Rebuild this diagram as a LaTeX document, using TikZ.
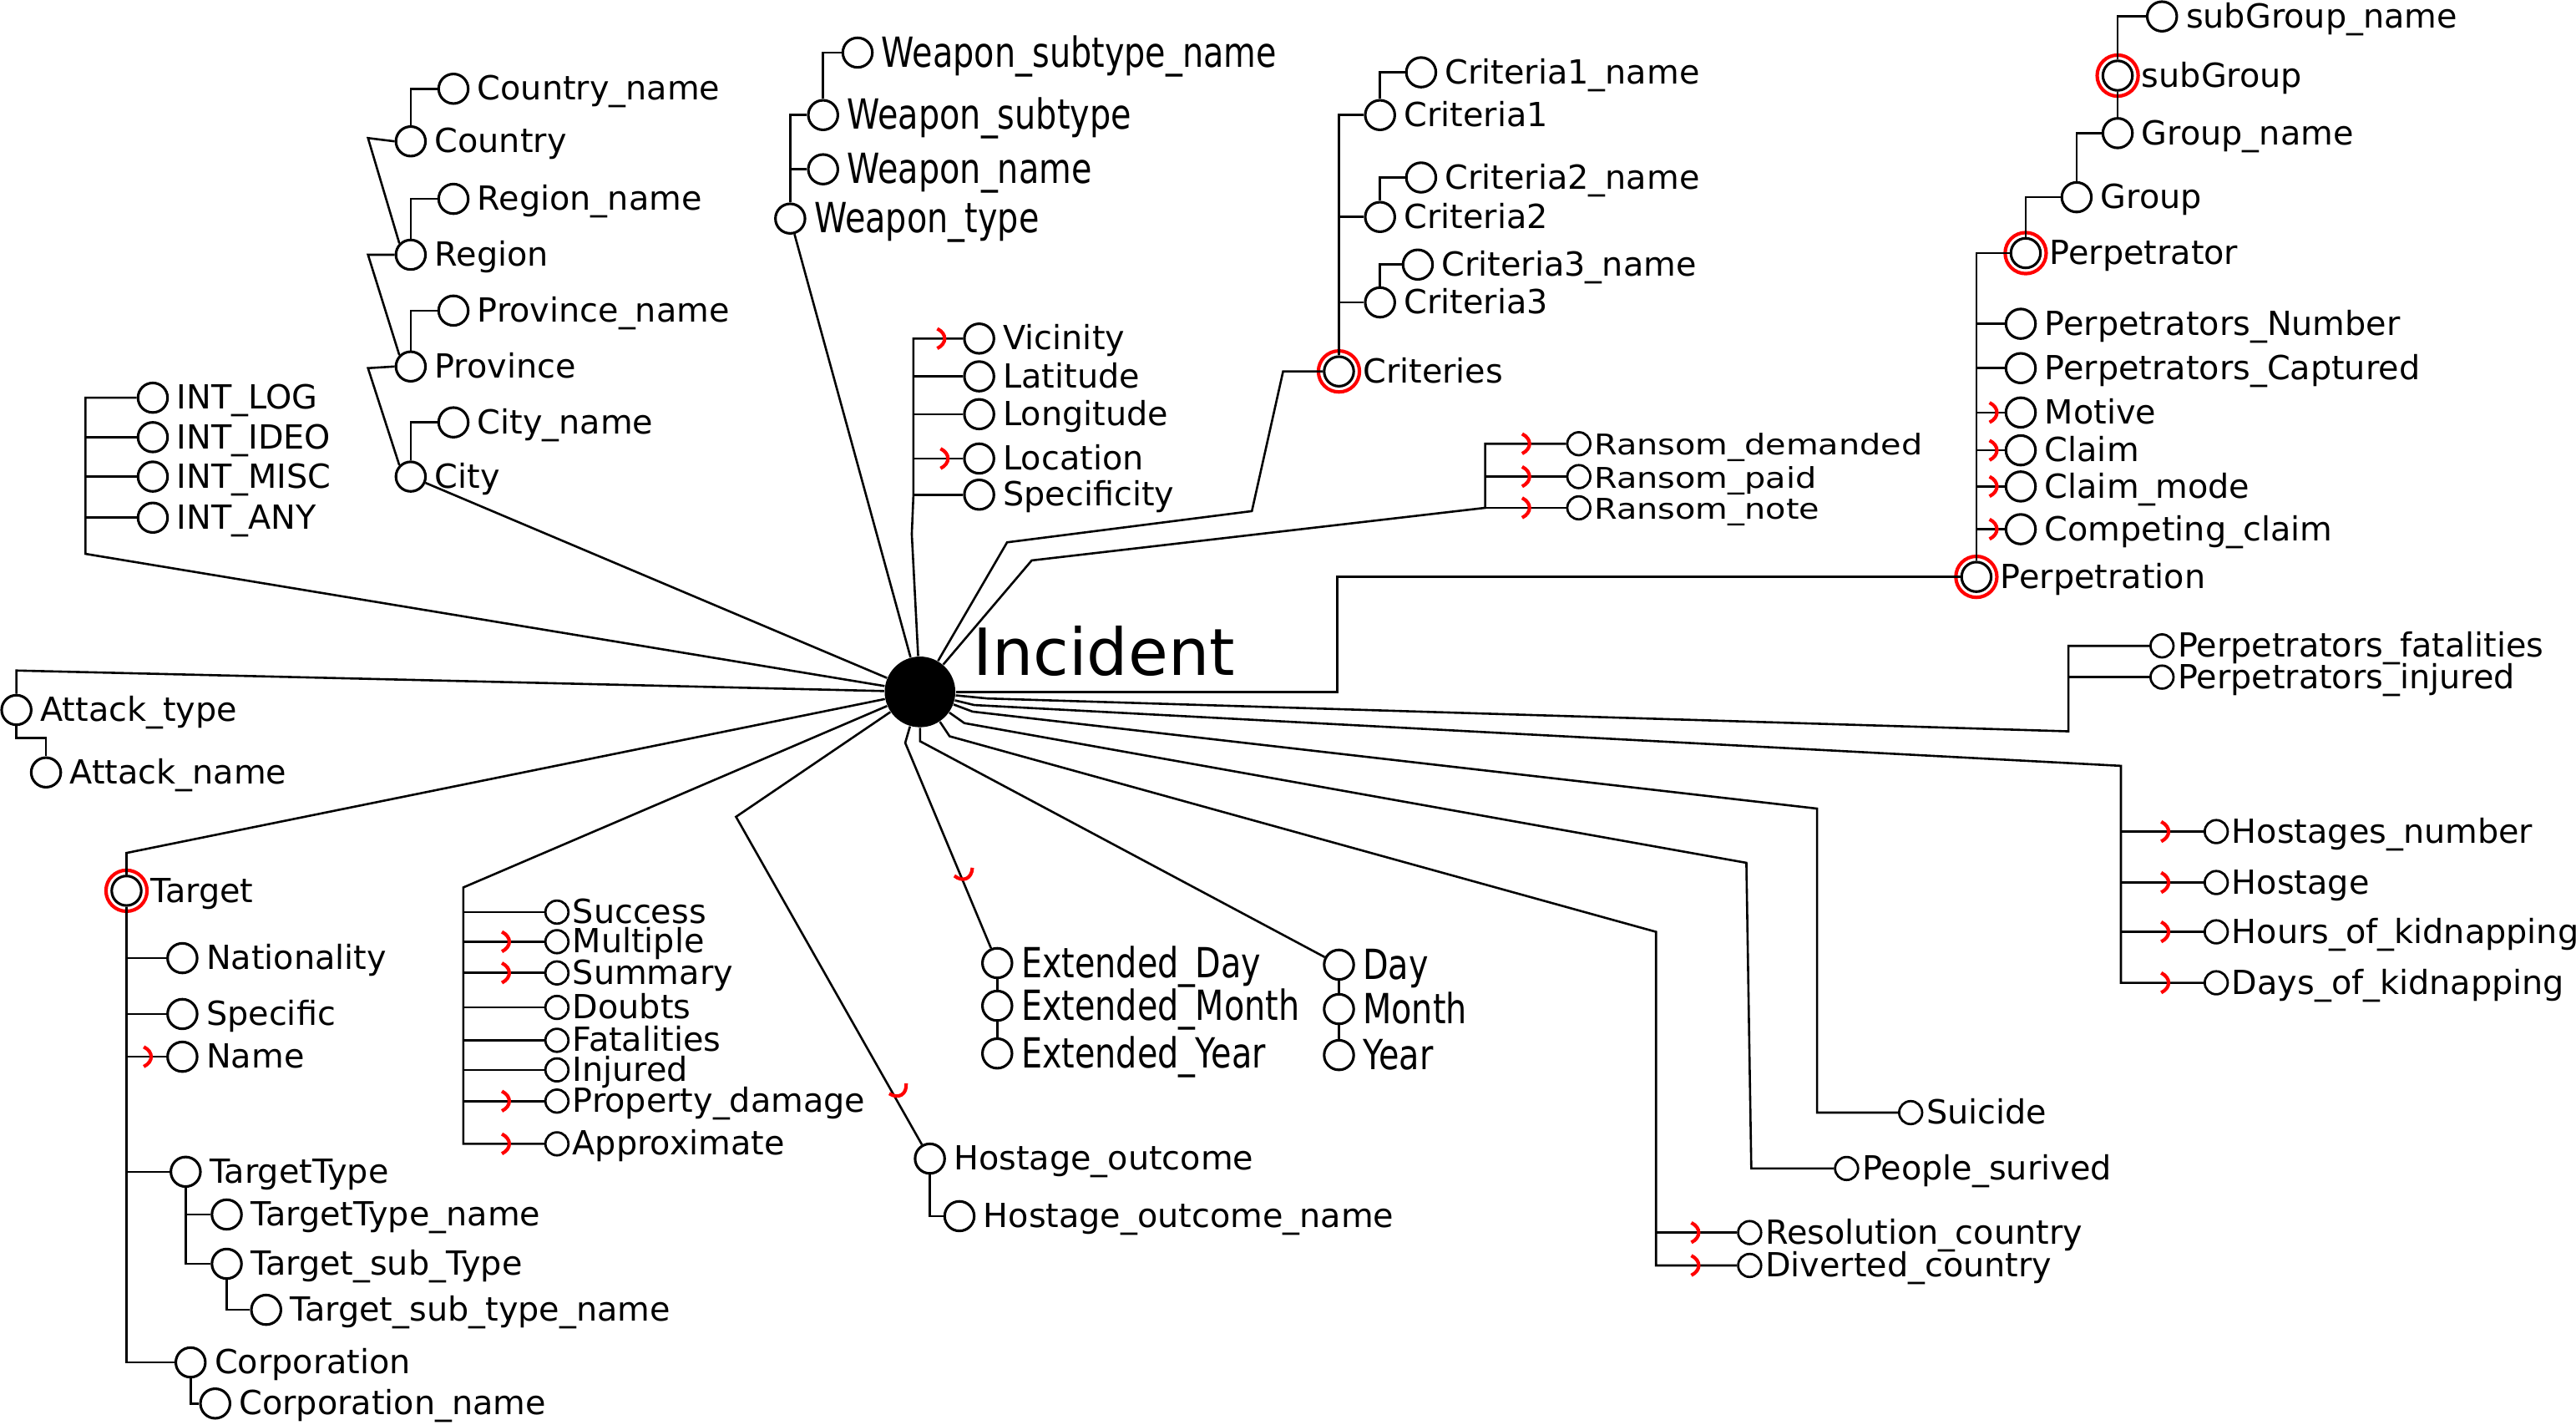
\documentclass[tikz,border=0pt]{standalone}
\usepackage{fontspec}
\setmainfont{DejaVu Sans}
\usetikzlibrary{calc}
\tikzset{
  attr/.style={circle, draw, line width=0.9pt, minimum size=0.36cm,
    inner sep=0pt},
  sattr/.style={circle, draw, line width=0.8pt, minimum size=0.28cm,
    inner sep=0pt},
  incident/.style={circle, fill=black, minimum size=0.86cm,
    inner sep=0pt},
  keyring/.style={draw=red, line width=1.2pt},
  link/.style={line width=0.75pt},
  every label/.style={font=\fontsize{11.5}{13}\selectfont, inner sep=0pt,
    text height=8.7pt, text depth=2.8pt, yshift=-1pt, xshift=0.09cm},
  sgap/.style={xshift=-0.06cm},
  tight/.style={sgap, text height=7.4pt, text depth=1.6pt},
  tallpos/.style={yshift=-1pt},
  bigtxt/.style={font=\fontsize{22.5}{26}\selectfont, text height=16.5pt,
    text depth=0pt, yshift=15pt, xshift=0.11cm},
  crowmark/.pic={\draw[red, line width=1.2pt]
    (-2.5,-6) .. controls (3.5,-3) and (3.5,3) .. (-2.5,6);},
}
\newcommand{\tallt}[1]{\scalebox{1}[1.25]{#1}}
\newcommand{\flatt}[1]{\scalebox{1}[0.86]{#1}}

\begin{document}
\begin{tikzpicture}[x=0.02cm, y=-0.02cm]
  \useasboundingbox (0,0) rectangle (1568,867);

  \node[incident, label={[bigtxt]right:Incident}] (inc) at (560,421) {};

  % INT
  \node[attr, label=right:INT\_LOG]  (ilog)  at (93,242) {};
  \node[attr, label=right:INT\_IDEO] (iideo) at (93,266) {};
  \node[attr, label=right:INT\_MISC] (imisc) at (93,290) {};
  \node[attr, label=right:INT\_ANY]  (iany)  at (93,315) {};
  \coordinate (ibar) at (52,337);
  \draw[link] (inc) -- (ibar) |- (ilog);
  \foreach \n in {iideo,imisc,iany} \draw[link] (ibar |- \n) -- (\n);

  % places
  \node[attr, label=right:Country\_name]  (ctryn) at (276,54) {};
  \node[attr, label=right:Country]        (ctry)  at (250,86) {};
  \node[attr, label=right:Region\_name]   (regn)  at (276,121) {};
  \node[attr, label=right:Region]         (reg)   at (250,155) {};
  \node[attr, label=right:Province\_name] (provn) at (276,189) {};
  \node[attr, label=right:Province]       (prov)  at (250,223) {};
  \node[attr, label=right:City\_name]     (cityn) at (276,257) {};
  \node[attr, label=right:City]           (city)  at (250,290) {};
  \foreach \a/\b in {ctry/ctryn, reg/regn, prov/provn, city/cityn}
    \draw[link] (\a.north) |- (\b);
  \draw[link] (ctry.west) -- (224,84) -- (reg.north west);
  \draw[link] (reg.west) -- (224,155) -- (prov.north west);
  \draw[link] (prov.west) -- (224,224) -- (city.north west);
  \draw[link] (city) -- (inc);

  % weapon
  \node[attr, label={[tallpos]right:\tallt{Weapon\_type}}]          (wtype) at (481,133) {};
  \node[attr, label={[tallpos]right:\tallt{Weapon\_name}}]          (wname) at (501,103) {};
  \node[attr, label={[tallpos]right:\tallt{Weapon\_subtype}}]       (wsub)  at (501,70) {};
  \node[attr, label={[tallpos]right:\tallt{Weapon\_subtype\_name}}] (wsubn) at (522,32) {};
  \draw[link] (wtype.north) |- (wsub);
  \draw[link] (wtype.north |- wname) -- (wname);
  \draw[link] (wsub.north) |- (wsubn);
  \draw[link] (wtype) -- (inc);

  % location
  \node[attr, label=right:Vicinity]    (vic)  at (596,206) {};
  \node[attr, label=right:Latitude]    (lat)  at (596,229) {};
  \node[attr, label=right:Longitude]   (lon)  at (596,252) {};
  \node[attr, label=right:Location]    (loc)  at (596,279) {};
  \node[attr, label=right:Specificity] (spec) at (596,301) {};
  \coordinate (lbar) at (556,301);
  \draw[link] (inc) -- (555,325) -- (lbar) |- (vic);
  \foreach \n in {lat,lon,loc,spec} \draw[link] (lbar |- \n) -- (\n);
  \pic at ([xshift=-0.46cm]vic.center) {crowmark};
  \pic at ([xshift=-0.42cm]loc.center) {crowmark};

  % criteries
  \node[attr, label=right:Criteria1\_name] (cr1n) at (865,44) {};
  \node[attr, label=right:Criteria1]       (cr1)  at (840,70) {};
  \node[attr, label=right:Criteria2\_name] (cr2n) at (865,108) {};
  \node[attr, label=right:Criteria2]       (cr2)  at (840,132) {};
  \node[attr, label=right:Criteria3\_name] (cr3n) at (863,161) {};
  \node[attr, label=right:Criteria3]       (cr3)  at (840,184) {};
  \node[attr, label=right:Criteries]       (crit) at (815,226) {};
  \draw[keyring] (crit) circle (0.25cm);
  \draw[link] (crit.north) |- (cr1);
  \foreach \n in {cr2,cr3} \draw[link] (crit.north |- \n) -- (\n);
  \foreach \a/\b in {cr1/cr1n, cr2/cr2n, cr3/cr3n} \draw[link] (\a.north) |- (\b);
  \draw[link] (inc) -- (613,330) -- (762,311) -- (781,226) -- (crit);

  % ransom
  \node[sattr, label={[tight]right:\flatt{Ransom\_demanded}}] (rdem)  at (961,270) {};
  \node[sattr, label={[tight]right:\flatt{Ransom\_paid}}]     (rpaid) at (961,290) {};
  \node[sattr, label={[tight]right:\flatt{Ransom\_note}}]     (rnote) at (961,309) {};
  \coordinate (rbar) at (904,309);
  \draw[link] (inc) -- (628,341) -- (rbar) |- (rdem);
  \foreach \n in {rpaid,rnote} \draw[link] (rbar |- \n) -- (\n);
  \foreach \n in {rdem,rpaid,rnote} \pic at ([xshift=-0.64cm]\n.center) {crowmark};

  % perpetration
  \node[attr, label=right:Perpetration]            (perpn) at (1203,351) {};
  \node[attr, label=right:Perpetrators\_Number]    (pnum)  at (1230,197) {};
  \node[attr, label=right:Perpetrators\_Captured]  (pcap)  at (1230,224) {};
  \node[attr, label=right:Motive]                  (motv)  at (1230,251) {};
  \node[attr, label=right:Claim]                   (clm)   at (1230,274) {};
  \node[attr, label=right:Claim\_mode]             (cmode) at (1230,296) {};
  \node[attr, label=right:Competing\_claim]        (ccomp) at (1230,322) {};
  \node[attr, label=right:Perpetrator]             (perp)  at (1233,154) {};
  \node[attr, label=right:Group]                   (grp)   at (1264,120) {};
  \node[attr, label=right:Group\_name]             (grpn)  at (1289,81) {};
  \node[attr, label=right:subGroup]                (sgrp)  at (1289,46) {};
  \node[attr, label=right:subGroup\_name]          (sgrpn) at (1316,10) {};
  \foreach \n in {perpn,perp,sgrp} \draw[keyring] (\n) circle (0.25cm);
  \draw[link] (perpn.north) |- (perp);
  \foreach \n in {pnum,pcap,motv,clm,cmode,ccomp} \draw[link] (perpn.north |- \n) -- (\n);
  \foreach \n in {motv,clm,cmode,ccomp} \pic at ([xshift=-0.33cm]\n.center) {crowmark};
  \draw[link] (perp.north) |- (grp);
  \draw[link] (grp.north) |- (grpn);
  \draw[link] (grpn) -- (sgrp);
  \draw[link] (sgrp.north) |- (sgrpn);
  \draw[link] (inc) -- (814,421) -- (814,351) -- (perpn);

  % perpetrators
  \node[sattr, label={[tight]right:Perpetrators\_fatalities}] (pfat) at (1316,393) {};
  \node[sattr, label={[tight]right:Perpetrators\_injured}]    (pinj) at (1316,412) {};
  \coordinate (fbar) at (1259,445);
  \draw[link] (inc) -- (601,425) -- (fbar) |- (pfat);
  \draw[link] (fbar |- pinj) -- (pinj);

  % hostages
  \node[sattr, label={[sgap]right:Hostages\_number}]      (hnum)  at (1349,506) {};
  \node[sattr, label={[sgap]right:Hostage}]               (host)  at (1349,537) {};
  \node[sattr, label={[sgap]right:Hours\_of\_kidnapping}] (hhrs)  at (1349,567) {};
  \node[sattr, label={[sgap]right:Days\_of\_kidnapping}]  (hdays) at (1349,598) {};
  \coordinate (hbar) at (1291,466);
  \draw[link] (inc) -- (593,429) -- (hbar) |- (hdays);
  \foreach \n in {hnum,host,hhrs} \draw[link] (hbar |- \n) -- (\n);
  \foreach \n in {hnum,host,hhrs,hdays} \pic at ([xshift=-0.62cm]\n.center) {crowmark};

  % suicide, survivors, countries
  \node[sattr, label={[sgap]right:Suicide}]         (suic)  at (1163,677) {};
  \node[sattr, label={[sgap]right:People\_surived}] (psurv) at (1124,711) {};
  \draw[link] (inc) -- (592,433) -- (1106,492) |- (suic);
  \draw[link] (inc) -- (587,440) -- (1063,525) -- (1066,711) -- (psurv);
  \node[sattr, label={[tight]right:Resolution\_country}] (rescty) at (1065,750) {};
  \node[sattr, label={[tight]right:Diverted\_country}]   (divcty) at (1065,770) {};
  \coordinate (dbar) at (1008,567);
  \draw[link] (inc) -- (578,448) -- (dbar) |- (divcty);
  \draw[link] (dbar |- rescty) -- (rescty);
  \foreach \n in {rescty,divcty} \pic at ([xshift=-0.66cm]\n.center) {crowmark};

  % dates
  \node[attr, label={[tallpos]right:\tallt{Day}}]   (day)   at (815,587) {};
  \node[attr, label={[tallpos]right:\tallt{Month}}] (month) at (815,614) {};
  \node[attr, label={[tallpos]right:\tallt{Year}}]  (year)  at (815,642) {};
  \node[attr, label={[tallpos]right:\tallt{Extended\_Day}}]   (eday)   at (607,586) {};
  \node[attr, label={[tallpos]right:\tallt{Extended\_Month}}] (emonth) at (607,612) {};
  \node[attr, label={[tallpos]right:\tallt{Extended\_Year}}]  (eyear)  at (607,641) {};
  \draw[link] (day) -- (month) -- (year);
  \draw[link] (eday) -- (emonth) -- (eyear);
  \coordinate (kd) at (551,452);
  \draw[link] (inc) -- (kd) -- (eday);
  \pic[rotate=-66] at ($(kd)!0.65!(eday.north)$) {crowmark};
  \draw[link] (inc) -- (560,451) -- (day);

  % hostage outcome
  \node[attr, label=right:Hostage\_outcome]       (hout)  at (566,705) {};
  \node[attr, label=right:Hostage\_outcome\_name] (houtn) at (584,740) {};
  \coordinate (kh) at (448,497);
  \draw[link] (inc) -- (kh) -- (hout);
  \pic[rotate=-59] at ($(kh)!0.845!(hout.north)$) {crowmark};
  \draw[link] (hout.south) |- (houtn);

  % success
  \node[sattr, label={[tight]right:Success}]          (succ)   at (339,555) {};
  \node[sattr, label={[tight]right:Multiple}]         (mult)   at (339,573) {};
  \node[sattr, label={[tight]right:Summary}]          (summ)   at (339,592) {};
  \node[sattr, label={[tight]right:Doubts}]           (doubt)  at (339,613) {};
  \node[sattr, label={[tight]right:Fatalities}]       (fatal)  at (339,633) {};
  \node[sattr, label={[tight]right:Injured}]          (injur)  at (339,651) {};
  \node[sattr, label={[tight]right:Property\_damage}] (propd)  at (339,670) {};
  \node[sattr, label={[tight]right:Approximate}]      (approx) at (339,696) {};
  \coordinate (sbar) at (282,540);
  \draw[link] (inc) -- (sbar) |- (approx);
  \foreach \n in {succ,mult,summ,doubt,fatal,injur,propd} \draw[link] (sbar |- \n) -- (\n);
  \foreach \n in {mult,summ,propd,approx} \pic at ([xshift=-0.62cm]\n.center) {crowmark};

  % target
  \node[attr, label=right:Target]                  (tgt)    at (77,542) {};
  \node[attr, label=right:Nationality]             (nat)    at (111,583) {};
  \node[attr, label=right:Specific]                (spcf)   at (111,617) {};
  \node[attr, label=right:Name]                    (tname)  at (111,643) {};
  \node[attr, label=right:TargetType]              (ttype)  at (113,713) {};
  \node[attr, label=right:TargetType\_name]        (ttypen) at (138,739) {};
  \node[attr, label=right:Target\_sub\_Type]       (tsub)   at (138,769) {};
  \node[attr, label=right:Target\_sub\_type\_name] (tsubn)  at (162,797) {};
  \node[attr, label=right:Corporation]             (corp)   at (116,829) {};
  \node[attr, label=right:Corporation\_name]       (corpn)  at (131,854) {};
  \draw[keyring] (tgt) circle (0.25cm);
  \draw[link] (inc) -- (77,519) -- (tgt);
  \draw[link] (tgt) |- (corp);
  \foreach \n in {nat,spcf,tname,ttype} \draw[link] (tgt.south |- \n) -- (\n);
  \pic at ([xshift=-0.42cm]tname.center) {crowmark};
  \draw[link] (ttype.south) |- (tsub);
  \draw[link] (ttype.south |- ttypen) -- (ttypen);
  \draw[link] (tsub.south) |- (tsubn);
  \draw[link] (corp.south) |- (corpn);

  % attack
  \node[attr, label=right:Attack\_type] (atype) at (10,432) {};
  \node[attr, label=right:Attack\_name] (aname) at (28,470) {};
  \draw[link] (inc) -- (10,408) -- (atype);
  \draw[link] (atype.south) -- (10,449) -| (aname.north);
\end{tikzpicture}
\end{document}
